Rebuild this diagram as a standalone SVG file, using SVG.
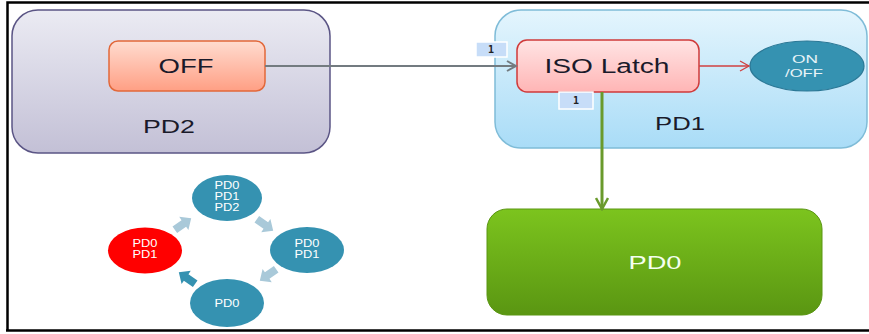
<svg xmlns="http://www.w3.org/2000/svg" width="869" height="334" viewBox="0 0 869 334">
<defs>
<linearGradient id="gPD2" x1="0" y1="0" x2="0" y2="1"><stop offset="0" stop-color="#ebebf3"/><stop offset="1" stop-color="#c3c0d6"/></linearGradient>
<linearGradient id="gOFF" x1="0" y1="0" x2="0" y2="1"><stop offset="0" stop-color="#ffdcd0"/><stop offset="1" stop-color="#ff9f84"/></linearGradient>
<linearGradient id="gPD1" x1="0" y1="0" x2="0" y2="1"><stop offset="0" stop-color="#e4f5fd"/><stop offset="1" stop-color="#a9dcf7"/></linearGradient>
<linearGradient id="gISO" x1="0" y1="0" x2="0" y2="1"><stop offset="0" stop-color="#ffe4e4"/><stop offset="1" stop-color="#ffb5b5"/></linearGradient>
<linearGradient id="gPD0" x1="0" y1="0" x2="0" y2="1"><stop offset="0" stop-color="#7cc41e"/><stop offset="1" stop-color="#5a9612"/></linearGradient>
<marker id="aGray" markerWidth="12" markerHeight="12" refX="10" refY="6" orient="auto" markerUnits="userSpaceOnUse"><path d="M1,1 L10,6 L1,11" fill="none" stroke="#737b80" stroke-width="2"/></marker>
<marker id="aRed" markerWidth="12" markerHeight="12" refX="10" refY="6" orient="auto" markerUnits="userSpaceOnUse"><path d="M1,1 L10,6 L1,11" fill="none" stroke="#d04040" stroke-width="1.3"/></marker>
<marker id="aGreen" markerWidth="14" markerHeight="14" refX="12" refY="7" orient="auto" markerUnits="userSpaceOnUse"><path d="M1,1 L12,7 L1,13" fill="none" stroke="#6a9a2c" stroke-width="2.5"/></marker>
</defs>
<style>
text{font-family:"Liberation Sans",Arial,sans-serif;text-anchor:middle}
.big{font-size:20px;fill:#1a1a2a}
.cyc{font-size:10.5px;fill:#ffffff}
.tag{font-size:10px;font-weight:bold;fill:#222;font-family:"DejaVu Sans Mono","Liberation Mono",monospace}
.tagbox{fill:#c7ddf8;stroke:#ffffff;stroke-width:1.5}
.blk{fill:#a9c9d9}
</style>
<rect x="0" y="0" width="869" height="334" fill="#ffffff"/>
<g id="frame" fill="none" stroke="#000" stroke-width="2.5">
<path d="M7.5,331 L7.5,2.5 L869,2.5"/>
<path d="M6,330.5 L869,330.5"/>
</g>
<g id="PD2">
<rect x="12" y="10" width="318" height="143" rx="26" fill="url(#gPD2)" stroke="#5b5585" stroke-width="1.5"/>
<text class="big" x="169" y="133" style="font-size:18.5px" textLength="52" lengthAdjust="spacingAndGlyphs">PD2</text>
</g>
<g id="OFF">
<rect x="109" y="41" width="156" height="50" rx="9" fill="url(#gOFF)" stroke="#e2683a" stroke-width="1.5"/>
<text class="big" x="186" y="73" textLength="55" lengthAdjust="spacingAndGlyphs">OFF</text>
</g>
<g id="PD1">
<rect x="495" y="10" width="372" height="138" rx="26" fill="url(#gPD1)" stroke="#7fbcd8" stroke-width="1.5"/>
<text class="big" x="680" y="130" style="font-size:18.5px" textLength="50" lengthAdjust="spacingAndGlyphs">PD1</text>
</g>
<g id="ISO">
<rect x="517" y="40" width="182" height="52" rx="10" fill="url(#gISO)" stroke="#d03a3a" stroke-width="1.5"/>
<text class="big" x="607" y="73" textLength="125" lengthAdjust="spacingAndGlyphs">ISO Latch</text>
</g>
<g id="ONOFF">
<ellipse cx="807" cy="66" rx="57" ry="25" fill="#3592b1" stroke="#2b7896" stroke-width="1.2"/>
<text x="805" y="63" style="font-size:10.5px;fill:#e8f4f8" textLength="26" lengthAdjust="spacingAndGlyphs">ON</text>
<text x="804" y="77" style="font-size:10.5px;fill:#e8f4f8" textLength="38" lengthAdjust="spacingAndGlyphs">/OFF</text>
</g>
<g id="PD0">
<rect x="487" y="209" width="335" height="106" rx="20" fill="url(#gPD0)" stroke="#5a9612" stroke-width="1"/>
<text x="655" y="269" style="font-size:19px;fill:#f4fff0" textLength="53" lengthAdjust="spacingAndGlyphs">PD0</text>
</g>
<g id="connectors">
<line x1="265" y1="66" x2="516" y2="66" stroke="#737b80" stroke-width="2" marker-end="url(#aGray)"/>
<line x1="699" y1="66" x2="749" y2="66" stroke="#d04040" stroke-width="1.3" marker-end="url(#aRed)"/>
<line x1="602" y1="92" x2="602" y2="209" stroke="#6a9a2c" stroke-width="3" marker-end="url(#aGreen)"/>
</g>
<g id="tags">
<rect class="tagbox" x="476" y="42" width="31" height="15"/>
<text class="tag" x="491" y="53">1</text>
<rect class="tagbox" x="559" y="92" width="34" height="17"/>
<text class="tag" x="576" y="104">1</text>
</g>
<g id="cycle">
<g id="c-top"><ellipse cx="227" cy="198" rx="35" ry="23" fill="#3592b1"/>
<text class="cyc" x="227" y="189" textLength="25" lengthAdjust="spacingAndGlyphs">PD0</text><text class="cyc" x="227" y="200" textLength="25" lengthAdjust="spacingAndGlyphs">PD1</text><text class="cyc" x="227" y="211" textLength="25" lengthAdjust="spacingAndGlyphs">PD2</text></g>
<g id="c-right"><ellipse cx="307" cy="250" rx="37" ry="23" fill="#3592b1"/>
<text class="cyc" x="307" y="247" textLength="25" lengthAdjust="spacingAndGlyphs">PD0</text><text class="cyc" x="307" y="258" textLength="25" lengthAdjust="spacingAndGlyphs">PD1</text></g>
<g id="c-bottom"><ellipse cx="227" cy="303" rx="37" ry="24" fill="#3592b1"/>
<text class="cyc" x="227" y="307" textLength="25" lengthAdjust="spacingAndGlyphs">PD0</text></g>
<g id="c-left"><ellipse cx="145" cy="250.5" rx="37" ry="23" fill="#ff0000"/>
<text class="cyc" x="145" y="247" textLength="25" lengthAdjust="spacingAndGlyphs">PD0</text><text class="cyc" x="145" y="258" textLength="25" lengthAdjust="spacingAndGlyphs">PD1</text></g>
<g id="cycle-arrows">
<path class="blk" transform="translate(183,224) rotate(-35)" d="M-10,-4 L1,-4 L1,-8 L10,0 L1,8 L1,4 L-10,4 Z"/>
<path class="blk" transform="translate(265,225) rotate(35)" d="M-10,-4 L1,-4 L1,-8 L10,0 L1,8 L1,4 L-10,4 Z"/>
<path class="blk" transform="translate(268,275) rotate(145)" d="M-10,-4 L1,-4 L1,-8 L10,0 L1,8 L1,4 L-10,4 Z"/>
<path fill="#3592b1" transform="translate(187,278) rotate(-145)" d="M-10,-4 L1,-4 L1,-8 L10,0 L1,8 L1,4 L-10,4 Z"/>
</g>
</g>
</svg>
